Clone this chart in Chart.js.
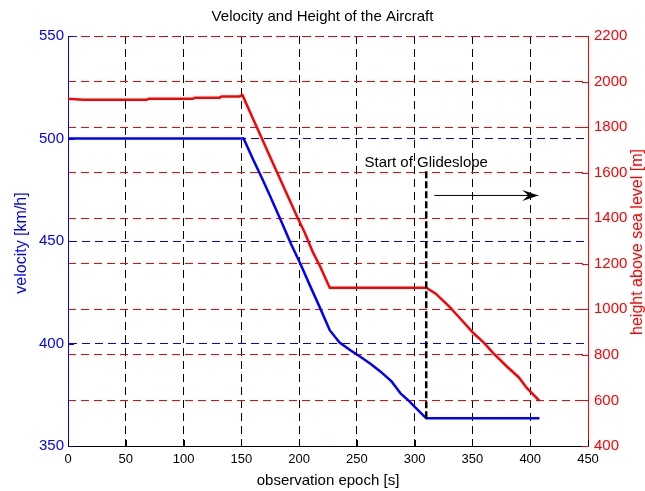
<!DOCTYPE html>
<html>
<head>
<meta charset="utf-8">
<script src="https://cdn.jsdelivr.net/npm/chart.js@4/dist/chart.umd.min.js"></script>
<style>
  html, body { margin: 0; padding: 0; background: #fff; }
  #wrap { width: 645px; height: 491px; }
</style>
</head>
<body>
<div id="wrap"><canvas id="c" width="645" height="491"></canvas></div>
<script>
// Observation epochs [s] and aircraft velocity [km/h]
const velocityEpochs = [0, 20, 40, 60, 80, 100, 120, 140, 152, 160, 168, 174, 185, 193, 201, 210, 218, 226.5,
  235, 245, 253, 262, 270, 280, 288, 295, 302, 310, 330, 350, 370, 390, 408];
const velocityValues = [500, 500, 500, 500, 500, 500, 500, 500, 500, 490, 480.5, 473, 459, 448.5, 439, 427.5, 417.5, 406.5,
  400.5, 396.5, 393.5, 390, 386.5, 381.5, 375.5, 372, 368, 363.5, 363.5, 363.5, 363.5, 363.5, 363.5];

// Observation epochs [s] and height above sea level [m]
const heightEpochs = [0, 13, 40, 68, 70, 108, 110, 131, 133, 148, 151, 160, 168, 172, 185, 198, 205, 212, 218, 226.5,
  250, 280, 310, 318, 330, 339, 351, 360, 368, 380, 390, 397, 408];
const heightValues = [1924, 1920, 1920, 1920, 1924, 1924, 1929, 1929, 1934, 1934, 1940, 1838, 1748, 1702, 1556, 1410, 1335, 1250, 1190, 1095,
  1095, 1095, 1095, 1070, 1012, 962, 895, 853, 808, 748, 702, 655, 598];

// Axis ticks
const epochTicks = [0, 50, 100, 150, 200, 250, 300, 350, 400, 450];
const velocityTicks = [350, 400, 450, 500, 550];
const heightTicks = [400, 600, 800, 1000, 1200, 1400, 1600, 1800, 2000, 2200];

// Start of the glideslope: marker epoch, vertical extent (velocity axis), arrow (height axis)
const glideEpoch = [310, 310];
const glideVelocity = [363.5, 484];
const arrowEpochs = [317, 407];
const arrowHeights = [1500, 1500];
const glideLabel = 'Start of Glideslope';
const glideLabelEpoch = 310;
const glideLabelHeight = 1645;

const BLUE = '#0000ff';
const RED = '#ff0000';
const SANS = '"Liberation Sans", Arial, Helvetica, sans-serif';
const DASH = [8, 5];

const pts = (xs, ys) => xs.map((x, i) => ({ x, y: ys[i] }));
const plain = v => String(v);

const decorations = {
  id: 'decorations',
  afterDatasetsDraw(chart) {
    const { ctx, chartArea: a, scales: { x, y, y2 } } = chart;
    ctx.save();
    ctx.lineWidth = 1;
    ctx.setLineDash([]);

    // tick marks pointing into the plot
    ctx.strokeStyle = '#000';
    epochTicks.forEach(v => {
      const px = Math.round(x.getPixelForValue(v)) + 0.5;
      ctx.beginPath(); ctx.moveTo(px, a.bottom); ctx.lineTo(px, a.bottom - 6); ctx.stroke();
    });
    ctx.strokeStyle = RED;
    heightTicks.forEach(v => {
      const py = Math.round(y2.getPixelForValue(v)) + 0.5;
      ctx.beginPath(); ctx.moveTo(a.right, py); ctx.lineTo(a.right - 6, py); ctx.stroke();
    });
    ctx.strokeStyle = BLUE;
    velocityTicks.forEach(v => {
      const py = Math.round(y.getPixelForValue(v)) + 0.5;
      ctx.beginPath(); ctx.moveTo(a.left, py); ctx.lineTo(a.left + 6, py); ctx.stroke();
    });

    // arrow head at the end of the arrow shaft
    const tipX = x.getPixelForValue(arrowEpochs[1]);
    const ay = y2.getPixelForValue(arrowHeights[1]);
    ctx.fillStyle = '#000';
    ctx.beginPath();
    ctx.moveTo(tipX, ay);
    ctx.lineTo(tipX - 16, ay - 5.5);
    ctx.lineTo(tipX - 10, ay);
    ctx.lineTo(tipX - 16, ay + 5.5);
    ctx.closePath();
    ctx.fill();

    // annotation text
    ctx.font = '15px ' + SANS;
    ctx.textAlign = 'center';
    ctx.textBaseline = 'middle';
    ctx.fillStyle = '#000';
    ctx.fillText(glideLabel, x.getPixelForValue(glideLabelEpoch), y2.getPixelForValue(glideLabelHeight));

    // axis titles
    ctx.fillText('observation epoch [s]', (a.left + a.right) / 2, 481);

    ctx.font = '16px ' + SANS;
    ctx.fillStyle = BLUE;
    ctx.save();
    ctx.translate(22, (a.top + a.bottom) / 2 + 2);
    ctx.rotate(-Math.PI / 2);
    ctx.fillText('velocity [km/h]', 0, 0);
    ctx.restore();

    ctx.fillStyle = RED;
    ctx.save();
    ctx.translate(638, (a.top + a.bottom) / 2 + 1);
    ctx.rotate(-Math.PI / 2);
    ctx.fillText('height above sea level [m]', 0, 0);
    ctx.restore();

    ctx.restore();
  }
};

new Chart(document.getElementById('c'), {
  type: 'line',
  data: {
    datasets: [
      {
        label: 'glideslope start',
        data: pts(glideEpoch, glideVelocity),
        yAxisID: 'y',
        borderColor: '#000',
        borderWidth: 2.5,
        borderDash: [7, 3],
        pointRadius: 0
      },
      {
        label: 'arrow',
        data: pts(arrowEpochs, arrowHeights),
        yAxisID: 'y2',
        borderColor: '#000',
        borderWidth: 1,
        pointRadius: 0
      },
      {
        label: 'height',
        data: pts(heightEpochs, heightValues),
        yAxisID: 'y2',
        borderColor: RED,
        borderWidth: 2.5,
        pointRadius: 0,
        tension: 0
      },
      {
        label: 'velocity',
        data: pts(velocityEpochs, velocityValues),
        yAxisID: 'y',
        borderColor: BLUE,
        borderWidth: 2.5,
        pointRadius: 0,
        tension: 0
      }
    ]
  },
  options: {
    responsive: false,
    animation: false,
    devicePixelRatio: 1,
    layout: { padding: 0 },
    plugins: {
      legend: { display: false },
      tooltip: { enabled: false },
      title: {
        display: true,
        text: 'Velocity and Height of the Aircraft',
        color: '#000',
        font: { family: SANS, size: 15, weight: 'normal', lineHeight: 1.2 },
        padding: { top: 8, bottom: 10 }
      }
    },
    scales: {
      x: {
        type: 'linear',
        min: 0, max: 450,
        afterBuildTicks: s => { s.ticks = epochTicks.map(v => ({ value: v })); },
        afterFit: s => { s.height = 45; },
        ticks: { color: '#000', font: { family: SANS, size: 13 }, padding: 6, maxRotation: 0, callback: plain },
        grid: { color: '#000', lineWidth: 1, drawTicks: false },
        border: { display: true, color: '#000', width: 1, dash: DASH }
      },
      y: {
        position: 'left',
        min: 350, max: 550,
        afterBuildTicks: s => { s.ticks = velocityTicks.map(v => ({ value: v })); },
        afterFit: s => { s.width = 68; },
        ticks: { color: BLUE, font: { family: SANS, size: 15 }, padding: 4, callback: plain },
        grid: { color: BLUE, lineWidth: 1, drawTicks: false },
        border: { display: true, color: BLUE, width: 1, dash: DASH }
      },
      y2: {
        position: 'right',
        min: 400, max: 2200,
        afterBuildTicks: s => { s.ticks = heightTicks.map(v => ({ value: v })); },
        afterFit: s => { s.width = 57; },
        ticks: { color: RED, font: { family: SANS, size: 15 }, padding: 6, callback: plain },
        grid: { color: RED, lineWidth: 1, drawTicks: false },
        border: { display: true, color: RED, width: 1, dash: DASH }
      }
    }
  },
  plugins: [decorations]
});
</script>
</body>
</html>
